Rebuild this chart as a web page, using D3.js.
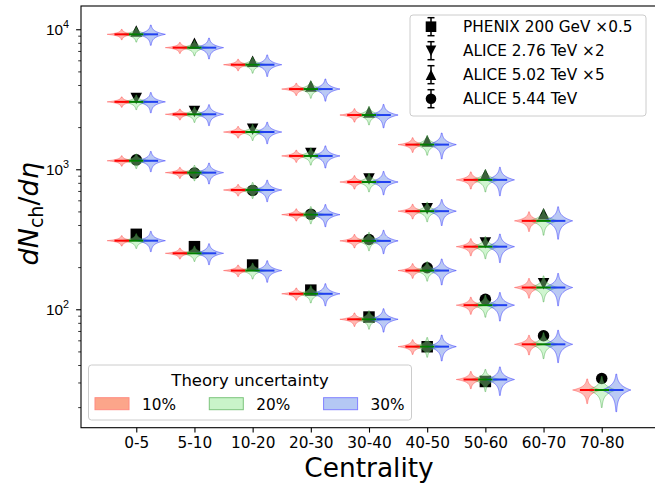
<!DOCTYPE html>
<html>
<head>
<meta charset="utf-8">
<script src="https://cdn.jsdelivr.net/npm/d3@7"></script>
<style>
  html, body { margin: 0; padding: 0; background: #fff; }
  svg { display: block; font-family: "DejaVu Sans", sans-serif; }
</style>
</head>
<body>
<svg id="chart" width="655" height="484"></svg>
<script>
// Centrality classes along the x axis
const categories = ["0-5", "5-10", "10-20", "20-30", "30-40", "40-50", "50-60", "60-70", "70-80"];

// Measured multiplicities (already multiplied by the factor in the legend)
const phenix200 = [343, 280, 207, 137, 88, 54, 30.5];
const alice276 = [3202, 2588, 1932, 1298, 852, 522, 298, 152];
const alice502 = [9715, 7935, 5900, 3930, 2560, 1590, 915, 481];
const alice544 = [1167, 939, 706, 478, 315, 198, 118, 64.7, 32];

// Theory medians for each system (same scaling as the data)
const theoryPhenix200 = [309, 251, 189, 129, 84.8, 54.1, 31.5];
const theoryAlice276 = [3030, 2470, 1845, 1245, 811, 502, 280, 143];
const theoryAlice502 = [9200, 7390, 5580, 3740, 2440, 1500, 840, 428];
const theoryAlice544 = [1150, 946, 711, 474, 308, 189, 107, 56.2, 26.5];

// Relative half-range of the theory distributions per centrality class
const spread10 = [0.085, 0.09, 0.095, 0.10, 0.11, 0.12, 0.14, 0.16, 0.20];
const spread20 = [0.12, 0.125, 0.13, 0.14, 0.15, 0.16, 0.18, 0.21, 0.25];
const spread30 = [0.165, 0.17, 0.175, 0.18, 0.19, 0.21, 0.23, 0.26, 0.30];

const uncertaintyLabels = ["10%", "20%", "30%"];
const legendLabels = ["PHENIX 200 GeV \u00d70.5", "ALICE 2.76 TeV \u00d72", "ALICE 5.02 TeV \u00d75", "ALICE 5.44 TeV"];

const svg = d3.select("#chart");
const plotLeft = 81, plotRight = 657, plotTop = 6, plotBottom = 427.7;

const x = d3.scaleLinear().domain([-0.95, 8.95]).range([plotLeft, plotRight]);
const y = d3.scaleLog().domain([14.26, 14660]).range([plotBottom, plotTop]);

// Isosceles triangle as wide as it is tall, centred on its bounding box
const symbolTri = {
  draw(ctx, size) {
    const r = Math.sqrt(size) / 2;
    ctx.moveTo(0, -r); ctx.lineTo(r, r); ctx.lineTo(-r, r); ctx.closePath();
  }
};

// Styles for the three uncertainty levels
const levels = [
  { spread: spread10, offset: -0.25, fill: "#ff3a2a", fillOp: 0.36, stroke: "#ff3030", strokeOp: 0.4, line: "#ff0000",
    legFill: "#fca58a", legStroke: "#ff8a80" },
  { spread: spread20, offset: 0.0, fill: "#90e690", fillOp: 0.42, stroke: "#2e9c2e", strokeOp: 0.4, line: "#008000",
    legFill: "#c9f4c9", legStroke: "#7cc47c" },
  { spread: spread30, offset: 0.25, fill: "#4169e1", fillOp: 0.36, stroke: "#3a3aff", strokeOp: 0.55, line: "#2040f0",
    legFill: "#b4c8f4", legStroke: "#8080ff" }
];

const systems = [
  { data: phenix200, theory: theoryPhenix200, symbol: d3.symbolSquare, size: 132, rot: 0 },
  { data: alice276, theory: theoryAlice276, symbol: symbolTri, size: 132, rot: 180 },
  { data: alice502, theory: theoryAlice502, symbol: symbolTri, size: 132, rot: 0 },
  { data: alice544, theory: theoryAlice544, symbol: d3.symbolCircle, size: 104, rot: 0 }
];

const plot = svg.append("g");

// Data markers (drawn first; theory violins sit on top)
systems.forEach(s => {
  plot.append("g").selectAll("path")
    .data(s.data)
    .join("path")
    .attr("d", d3.symbol().type(s.symbol).size(s.size))
    .attr("transform", (d, i) => `translate(${x(i)},${y(d)}) rotate(${s.rot})`)
    .attr("fill", "#000");
});

// Violin outline from a peaked density profile between median*(1-s) and median*(1+s)
function violinPath(pos, median, s) {
  const n = 80, k = 3.6;
  const pts = [];
  for (let j = 0; j <= n; j++) {
    const t = -1 + 2 * j / n;
    pts.push([t, 0.25 * Math.exp(-k * Math.abs(t))]);
  }
  const rightSide = pts.map(([t, w]) => [x(pos + w), y(median * (1 + s * t))]);
  const leftSide = pts.slice().reverse().map(([t, w]) => [x(pos - w), y(median * (1 + s * t))]);
  return d3.line()(rightSide.concat(leftSide)) + "Z";
}

systems.forEach(s => {
  s.theory.forEach((m, i) => {
    levels.forEach(L => {
      const pos = i + L.offset;
      plot.append("path")
        .attr("d", violinPath(pos, m, L.spread[i]))
        .attr("fill", L.fill).attr("fill-opacity", L.fillOp)
        .attr("stroke", L.stroke).attr("stroke-opacity", L.strokeOp)
        .attr("stroke-width", 1);
    });
    levels.forEach(L => {
      const pos = i + L.offset;
      plot.append("line")
        .attr("x1", x(pos - 0.125)).attr("x2", x(pos + 0.125))
        .attr("y1", y(m)).attr("y2", y(m))
        .attr("stroke", L.line).attr("stroke-width", 2);
    });
  });
});

// Axes
const xAxis = d3.axisBottom(x).tickValues(d3.range(categories.length))
  .tickFormat(i => categories[i]).tickSize(4.9).tickPadding(4.5);
const gx = svg.append("g").attr("transform", `translate(0,${plotBottom})`).call(xAxis);
gx.select(".domain").remove();
gx.selectAll("text").attr("font-size", 15.3).attr("fill", "#000").attr("font-family", "DejaVu Sans");
gx.selectAll("line").attr("stroke", "#000").attr("stroke-width", 1.1);

const majors = [100, 1000, 10000];
const minors = [];
[10, 100, 1000, 10000].forEach(dec => {
  for (let m = 2; m <= 9; m++) {
    const v = dec * m;
    if (v > y.domain()[0] && v < y.domain()[1]) minors.push(v);
  }
});
const gyMinor = svg.append("g").attr("transform", `translate(${plotLeft},0)`)
  .call(d3.axisLeft(y).tickValues(minors).tickFormat("").tickSize(2.8));
gyMinor.select(".domain").remove();
gyMinor.selectAll("line").attr("stroke", "#000").attr("stroke-width", 0.8);

const gy = svg.append("g").attr("transform", `translate(${plotLeft},0)`)
  .call(d3.axisLeft(y).tickValues(majors).tickFormat("").tickSize(4.9));
gy.select(".domain").remove();
gy.selectAll("line").attr("stroke", "#000").attr("stroke-width", 1.1);
gy.selectAll(".tick").each(function (d) {
  const t = d3.select(this).append("text")
    .attr("x", -12).attr("y", 5.5)
    .attr("text-anchor", "end").attr("fill", "#000")
    .attr("font-size", 15.3);
  t.append("tspan").text("10");
  t.append("tspan").attr("dy", -7).attr("font-size", 10.8).text(Math.round(Math.log10(d)));
});

// Frame
svg.append("rect").attr("x", plotLeft).attr("y", plotTop)
  .attr("width", plotRight - plotLeft).attr("height", plotBottom - plotTop)
  .attr("fill", "none").attr("stroke", "#000").attr("stroke-width", 1.1);

// Axis titles
svg.append("text").attr("x", (plotLeft + plotRight) / 2).attr("y", 477)
  .attr("text-anchor", "middle").attr("font-size", 26.4).attr("fill", "#000")
  .text("Centrality");

const yl = svg.append("text")
  .attr("transform", `translate(38,${(plotTop + plotBottom) / 2 - 3}) rotate(-90)`)
  .attr("text-anchor", "middle").attr("font-size", 27).attr("fill", "#000");
yl.append("tspan").attr("font-style", "italic").text("dN");
yl.append("tspan").attr("font-size", 19).attr("dy", 5).text("ch");
yl.append("tspan").attr("dy", -5).text("/");
yl.append("tspan").attr("font-style", "italic").text("d\u03b7");

// Legend: data systems
const leg1 = svg.append("g");
leg1.append("rect").attr("x", 410).attr("y", 15).attr("width", 236).attr("height", 101)
  .attr("rx", 3).attr("fill", "#fff").attr("fill-opacity", 0.8)
  .attr("stroke", "#cccccc").attr("stroke-width", 1);
systems.forEach((s, i) => {
  const cy = 26.7 + i * 24;
  const g = leg1.append("g").attr("transform", `translate(431,${cy})`);
  g.append("line").attr("x1", 0).attr("x2", 0).attr("y1", -9).attr("y2", 9)
    .attr("stroke", "#000").attr("stroke-width", 1.5);
  [-9, 9].forEach(cyc => g.append("line").attr("x1", -3.5).attr("x2", 3.5)
    .attr("y1", cyc).attr("y2", cyc).attr("stroke", "#000").attr("stroke-width", 1.5));
  g.append("path").attr("d", d3.symbol().type(s.symbol).size(s.size * 0.85))
    .attr("transform", `rotate(${s.rot})`).attr("fill", "#000");
  leg1.append("text").attr("x", 463).attr("y", cy + 5.5)
    .attr("font-size", 15.3).attr("fill", "#000").text(legendLabels[i]);
});

// Legend: theory uncertainty levels
const leg2 = svg.append("g");
leg2.append("rect").attr("x", 88.5).attr("y", 365).attr("width", 323).attr("height", 55)
  .attr("rx", 3).attr("fill", "#fff").attr("fill-opacity", 0.8)
  .attr("stroke", "#cccccc").attr("stroke-width", 1);
leg2.append("text").attr("x", 250).attr("y", 386).attr("text-anchor", "middle")
  .attr("font-size", 16.5).attr("fill", "#000").text("Theory uncertainty");
levels.forEach((L, i) => {
  const px = 95 + i * 114.3;
  leg2.append("rect").attr("x", px).attr("y", 397.7).attr("width", 34).attr("height", 12)
    .attr("fill", L.legFill).attr("stroke", L.legStroke).attr("stroke-width", 1);
  leg2.append("text").attr("x", px + 47).attr("y", 409.5)
    .attr("font-size", 15.3).attr("fill", "#000").text(uncertaintyLabels[i]);
});
</script>
</body>
</html>
